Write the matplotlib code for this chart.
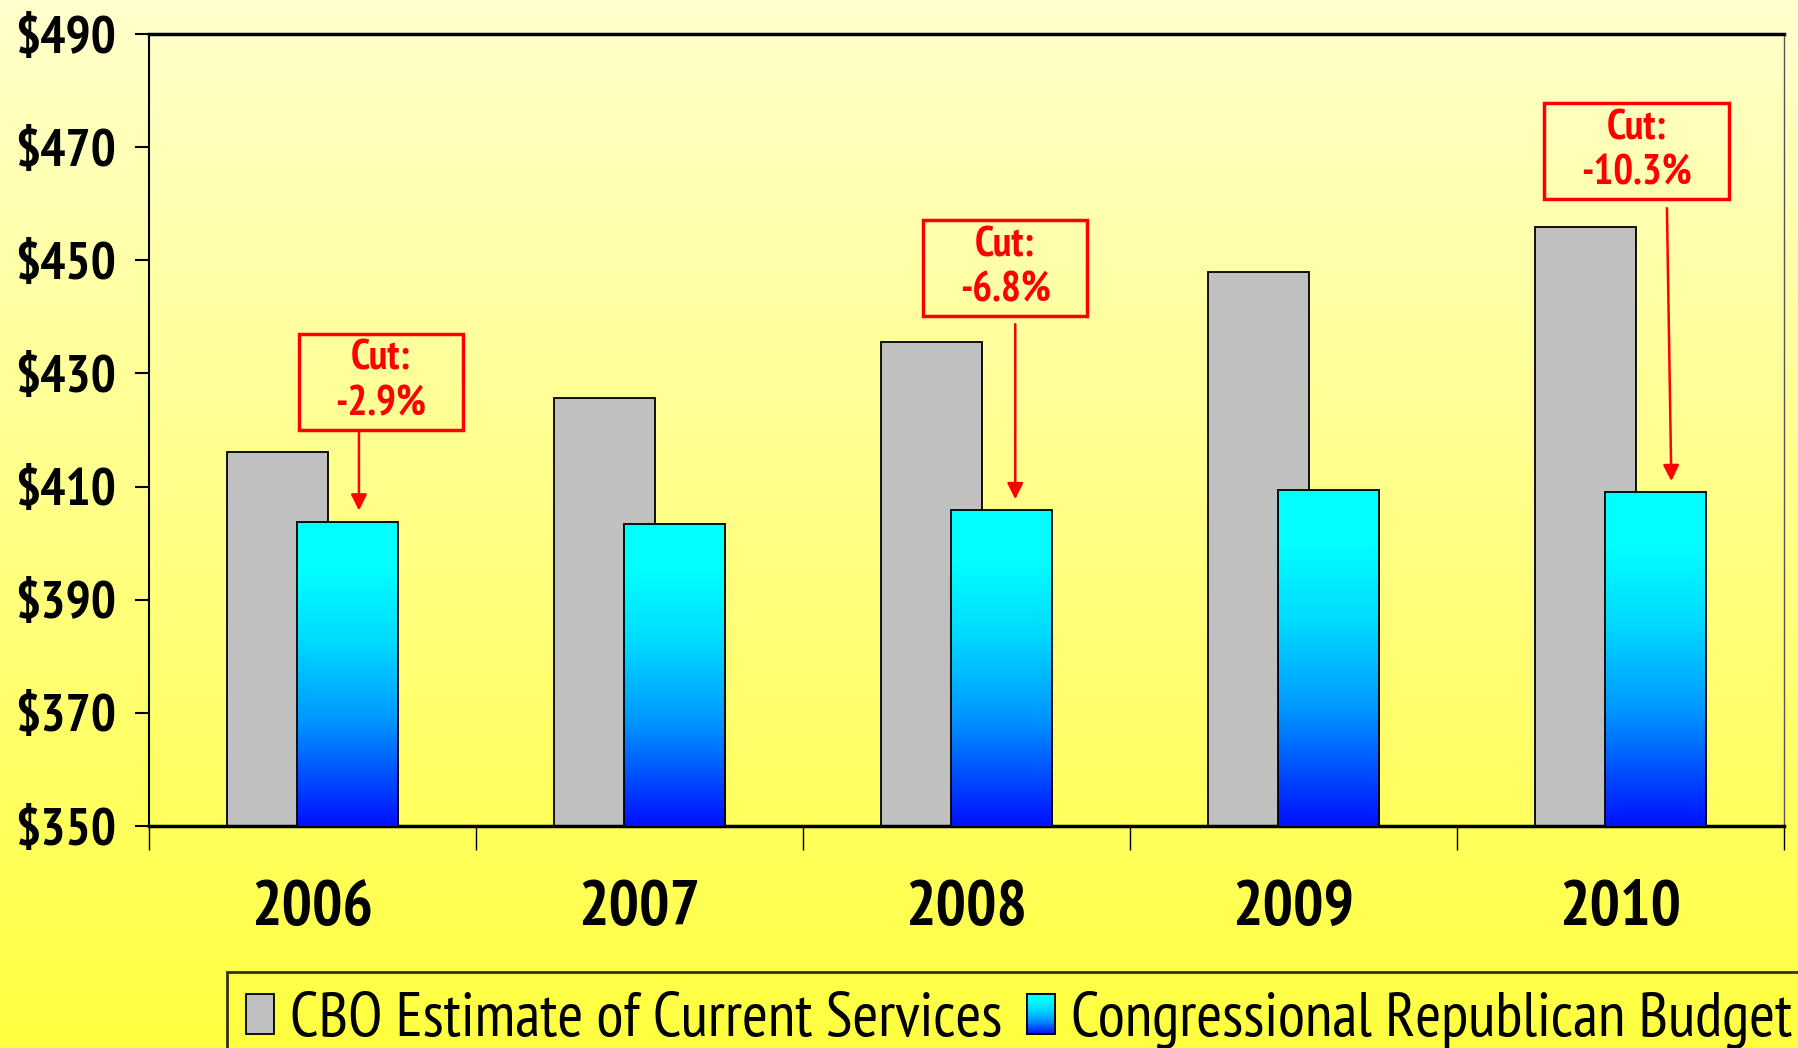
import numpy as np
import matplotlib.pyplot as plt
from matplotlib.colors import LinearSegmentedColormap
from matplotlib.path import Path
from matplotlib import font_manager

# data (billions)
years = ['2006', '2007', '2008', '2009', '2010']
cbo_estimate = [416.1, 425.7, 435.6, 448.0, 455.9]
republican_budget = [403.8, 403.4, 405.8, 409.4, 409.0]
series_names = ['CBO Estimate of Current Services', 'Congressional Republican Budget']
y_ticks = [350, 370, 390, 410, 430, 450, 470, 490]
cut_years = [0, 2, 4]
cut_labels = ['Cut:\n-2.9%', 'Cut:\n-6.8%', 'Cut:\n-10.3%']

# call-out layout: box centre (data), arrow x start/tip offset, arrow start y
box_pos = [(0.209, 428.5), (2.118, 448.6), (4.049, 469.3)]
arrow_x = [(0.142, 0.142), (0.149, 0.149), (0.142, 0.156)]
arrow_y0 = [419.6, 438.7, 459.2]


def pick(cands, bold):
    entries = font_manager.fontManager.ttflist
    for c in cands:
        ws = [f.weight for f in entries if f.name == c]
        ws = [w if isinstance(w, int) else 700 if w == 'bold' else 400 for w in ws]
        if ws and (not bold or max(ws) >= 700):
            return c
    return 'DejaVu Sans'


narrow_cands = ['Liberation Sans Narrow', 'Arial Narrow', 'PT Sans Narrow',
                'Roboto Condensed', 'Pragati Narrow', 'Archivo Narrow',
                'Barlow Semi Condensed']
fam_b = [pick(narrow_cands, True), 'DejaVu Sans']
fam_r = [pick(narrow_cands, False), 'DejaVu Sans']

W, H = 1799, 1048
fig = plt.figure(figsize=(W / 100, H / 100), dpi=100)

# yellow background gradient
bg = fig.add_axes([0, 0, 1, 1], zorder=-10)
bg_cmap = LinearSegmentedColormap.from_list('bg', ['#ffff40', '#ffffcc'])
bg.imshow(np.linspace(0, 1, 256).reshape(-1, 1), cmap=bg_cmap, aspect='auto',
          origin='lower', extent=[0, 1, 0, 1])
bg.axis('off')

ax = fig.add_axes([149 / W, 1 - 826 / H, (1784 - 149) / W, (826 - 34) / H])
ax.set_facecolor('none')

x = np.arange(len(years))
w = 0.31
off = 0.107
ax.bar(x - off, cbo_estimate, w, color='#c0c0c0', edgecolor='black', lw=1.3, zorder=2,
       label=series_names[0])
blue = ax.bar(x + off, republican_budget, w, facecolor='none', edgecolor='black', lw=1.3,
              zorder=4, label=series_names[1])

bar_cmap = LinearSegmentedColormap.from_list(
    'bars', [(0, '#0010ff'), (0.35, '#0098ff'), (0.6, '#00d8ff'),
             (0.84, '#00ffff'), (1, '#00ffff')])
grad = np.linspace(0, 1, 256).reshape(-1, 1)
for p in blue.patches:
    x0 = p.get_x()
    ax.imshow(grad, cmap=bar_cmap, aspect='auto', origin='lower', zorder=3,
              extent=[x0, x0 + p.get_width(), y_ticks[0], p.get_height()])

ax.set_xlim(-0.5, len(years) - 0.5)
ax.set_ylim(y_ticks[0], y_ticks[-1])

# axes styling
ax.set_yticks(y_ticks)
ax.set_yticklabels([f'${v}' for v in y_ticks])
ax.set_xticks(np.arange(len(years) + 1) - 0.5)
ax.set_xticklabels([])
ax.set_xticks(x, minor=True)
ax.set_xticklabels(years, minor=True)
ax.tick_params(axis='y', direction='out', length=10, width=1.5, pad=14, labelsize=38)
ax.tick_params(axis='x', which='major', direction='out', length=17, width=1)
ax.tick_params(axis='x', which='minor', length=0, pad=39, labelsize=46)
for lab in ax.get_yticklabels() + ax.get_xticklabels(minor=True):
    lab.set_family(fam_b)
    lab.set_fontweight('bold')
ax.spines['left'].set_linewidth(1.5)
ax.spines['bottom'].set_linewidth(2.5)
ax.spines['top'].set_linewidth(2.5)
ax.spines['right'].set_linewidth(1)
ax.spines['right'].set_color('#555555')


def wide_box(x0, y0, width, height, mutation_size):
    px = 0.88 * mutation_size
    py = 0.14 * mutation_size
    x0, y0 = x0 - px, y0 - py
    x1, y1 = x0 + width + 2 * px, y0 + height + 2 * py
    return Path([(x0, y0), (x1, y0), (x1, y1), (x0, y1), (x0, y0)], closed=True)


for i, label, (tx, ty), (ax0, ax1), ay0 in zip(cut_years, cut_labels, box_pos,
                                                arrow_x, arrow_y0):
    ax.text(tx, ty, label, ha='center', va='center', color='red', fontsize=30,
            fontweight='bold', family=fam_b, linespacing=1.2, zorder=6,
            bbox=dict(boxstyle=wide_box, fc='none', ec='red', lw=2.5))
    ax.annotate('', xy=(x[i] + ax1, republican_budget[i]), xytext=(x[i] + ax0, ay0),
                zorder=6,
                arrowprops=dict(arrowstyle='-|>', color='red', lw=1.8, mutation_scale=24,
                                shrinkA=0, shrinkB=8))

leg = ax.legend(loc='upper left', bbox_to_anchor=(227 / W, 1 - 972 / H),
                bbox_transform=fig.transFigure, ncol=2, frameon=True, fancybox=False,
                prop=dict(family=fam_r, size=45), handlelength=0.45, handleheight=0.6,
                handletextpad=0.25, columnspacing=0.4, borderpad=0.3, borderaxespad=0)
leg.get_frame().set_edgecolor('black')
leg.get_frame().set_linewidth(2)
leg.get_frame().set_facecolor('none')
leg.legend_handles[1].set_facecolor('#00ffff')

# put the gradient into the second legend swatch
fig.canvas.draw()
bb = leg.legend_handles[1].get_window_extent().transformed(fig.transFigure.inverted())
sw = fig.add_axes([bb.x0, bb.y0, bb.width, bb.height], zorder=5)
sw.imshow(grad, cmap=bar_cmap, aspect='auto', origin='lower', extent=[0, 1, 0, 1])
sw.set_xticks([])
sw.set_yticks([])
for s in sw.spines.values():
    s.set_linewidth(1.3)

fig.savefig('out.png', dpi=100)
